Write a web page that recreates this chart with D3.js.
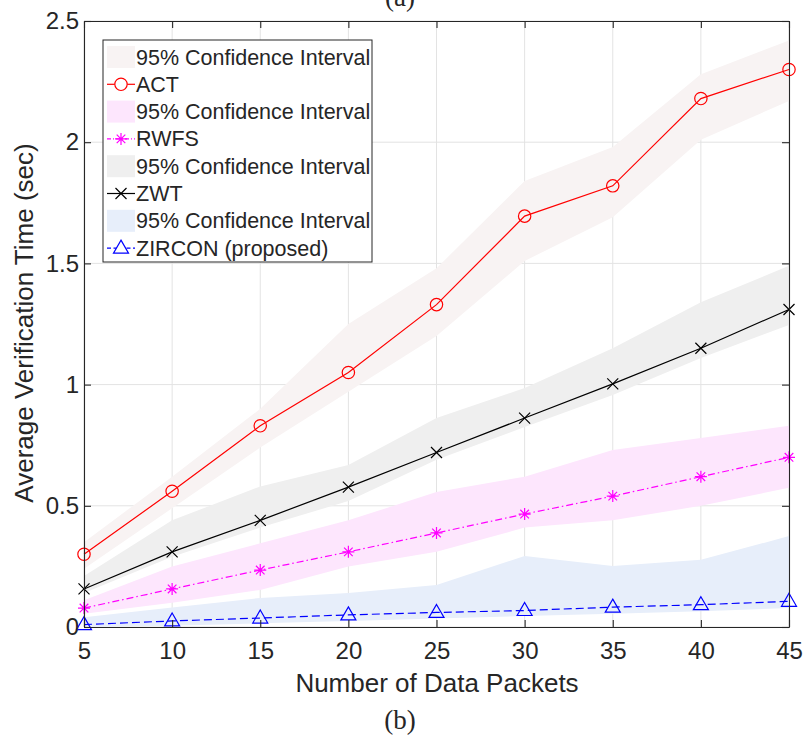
<!DOCTYPE html>
<html>
<head>
<meta charset="utf-8">
<title>Average Verification Time</title>
<style>
	body { margin: 0; background: #fff; }
	text { font-family: "Liberation Sans", Arial, Helvetica, sans-serif; fill: #262626; }
</style>
</head>
<body>
<svg width="806" height="738"></svg>
<script src="https://d3js.org/d3.v7.min.js"></script>
<script>
// data
const packets = [5, 10, 15, 20, 25, 30, 35, 40, 45];

const act   = [0.30, 0.56, 0.83, 1.05, 1.33, 1.695, 1.82, 2.18, 2.30];
const actLo = [0.24, 0.49, 0.74, 0.97, 1.20, 1.51, 1.69, 2.01, 2.17];
const actHi = [0.35, 0.62, 0.90, 1.25, 1.48, 1.84, 1.98, 2.28, 2.42];

const rwfs   = [0.078, 0.157, 0.235, 0.31, 0.388, 0.466, 0.54, 0.62, 0.70];
const rwfsLo = [0.055, 0.10, 0.153, 0.25, 0.31, 0.41, 0.44, 0.50, 0.574];
const rwfsHi = [0.11, 0.25, 0.345, 0.44, 0.557, 0.62, 0.73, 0.78, 0.83];

const zwt   = [0.157, 0.31, 0.44, 0.577, 0.72, 0.862, 1.003, 1.15, 1.31];
const zwtLo = [0.14, 0.29, 0.41, 0.52, 0.69, 0.825, 0.957, 1.11, 1.246];
const zwtHi = [0.21, 0.44, 0.58, 0.668, 0.862, 0.986, 1.15, 1.34, 1.49];

const zircon   = [0.01, 0.025, 0.037, 0.05, 0.06, 0.068, 0.082, 0.092, 0.106];
const zirconLo = [0.0, 0.005, 0.015, 0.025, 0.035, 0.045, 0.055, 0.065, 0.078];
const zirconHi = [0.04, 0.08, 0.12, 0.14, 0.173, 0.293, 0.252, 0.277, 0.375];

const xTicks = [5, 10, 15, 20, 25, 30, 35, 40, 45];
const yTicks = [0, 0.5, 1, 1.5, 2, 2.5];
const yTickLabels = ['0', '0.5', '1', '1.5', '2', '2.5'];

const series = [
	{name: 'ACT', y: act, lo: actLo, hi: actHi, color: '#ff0000', band: '#f8f3f3', dash: null, marker: 'circle'},
	{name: 'RWFS', y: rwfs, lo: rwfsLo, hi: rwfsHi, color: '#ff00ff', band: '#fde6fd', dash: '7,3,1.5,3', marker: 'star'},
	{name: 'ZWT', y: zwt, lo: zwtLo, hi: zwtHi, color: '#000000', band: '#efefef', dash: null, marker: 'cross'},
	{name: 'ZIRCON (proposed)', y: zircon, lo: zirconLo, hi: zirconHi, color: '#0000ff', band: '#e7eefa', dash: '8,4', marker: 'triangle'}
];

const plotL = 84, plotR = 789, plotT = 21, plotB = 627;

var svg = d3.select('svg');

var x = d3.scaleLinear().domain([5, 45]).range([plotL, plotR]);
var y = d3.scaleLinear().domain([0, 2.5]).range([plotB, plotT]);

// grid
var grid = svg.append('g').attr('class', 'grid');
grid.selectAll('.gx').data(xTicks).enter().append('line')
	.attr('x1', d => x(d)).attr('x2', d => x(d))
	.attr('y1', plotT).attr('y2', plotB)
	.attr('stroke', '#e3e3e3').attr('stroke-width', 1);
grid.selectAll('.gy').data(yTicks).enter().append('line')
	.attr('y1', d => y(d)).attr('y2', d => y(d))
	.attr('x1', plotL).attr('x2', plotR)
	.attr('stroke', '#e3e3e3').attr('stroke-width', 1);

// bands then lines
var area = d3.area()
	.x((d, i) => x(packets[i]))
	.y0(d => y(d[0]))
	.y1(d => y(d[1]));

var line = d3.line()
	.x((d, i) => x(packets[i]))
	.y(d => y(d));

function markerPath(type) {
	if (type === 'circle') return d3.symbol().type(d3.symbolCircle).size(120)();
	if (type === 'triangle') return 'M0,-8L7.5,5L-7.5,5Z';
	if (type === 'cross') return 'M-5.5,-5.5L5.5,5.5M-5.5,5.5L5.5,-5.5';
	// asterisk
	return 'M-6,0L6,0M0,-6L0,6M-4.3,-4.3L4.3,4.3M-4.3,4.3L4.3,-4.3';
}

var plot = svg.append('g').attr('class', 'plot');
series.forEach(s => {
	plot.append('path')
		.datum(s.lo.map((v, i) => [v, s.hi[i]]))
		.attr('d', area)
		.attr('fill', s.band);
});
series.forEach(s => {
	plot.append('path')
		.datum(s.y)
		.attr('d', line)
		.attr('fill', 'none')
		.attr('stroke', s.color)
		.attr('stroke-width', 1.2)
		.attr('stroke-dasharray', s.dash);
	plot.selectAll(null).data(s.y).enter().append('path')
		.attr('transform', (d, i) => `translate(${x(packets[i])},${y(d)})`)
		.attr('d', markerPath(s.marker))
		.attr('fill', 'none')
		.attr('stroke', s.color)
		.attr('stroke-width', 1.2);
});

// axes box with inward ticks
var axisColor = '#262626';
var xAxis = svg.append('g').attr('transform', `translate(0,${plotB})`)
	.call(d3.axisBottom(x).tickValues(xTicks).tickSizeInner(-7).tickSizeOuter(0));
var yAxis = svg.append('g').attr('transform', `translate(${plotL},0)`)
	.call(d3.axisLeft(y).tickValues(yTicks).tickFormat((d, i) => yTickLabels[i]).tickSizeInner(-7).tickSizeOuter(0).tickPadding(5));
svg.append('g').attr('transform', `translate(0,${plotT})`)
	.call(d3.axisTop(x).tickValues(xTicks).tickSizeInner(-7).tickSizeOuter(0).tickFormat(''));
svg.append('g').attr('transform', `translate(${plotR},0)`)
	.call(d3.axisRight(y).tickValues(yTicks).tickSizeInner(-7).tickSizeOuter(0).tickFormat(''));
svg.selectAll('.domain, .tick line').attr('stroke', axisColor).attr('stroke-width', 1.1);
svg.selectAll('.tick text').attr('font-size', 24).attr('fill', axisColor)
	.style('font-family', '"Liberation Sans", Arial, sans-serif');
xAxis.selectAll('.tick text').attr('dy', null).attr('y', 32);

// axis titles
svg.append('text')
	.attr('x', 437).attr('y', 692)
	.attr('text-anchor', 'middle').attr('font-size', 26)
	.text('Number of Data Packets');
svg.append('text')
	.attr('transform', 'translate(33,323) rotate(-90)')
	.attr('text-anchor', 'middle').attr('font-size', 26)
	.text('Average Verification Time (sec)');

// subfigure captions
svg.append('text')
	.attr('x', 400).attr('y', 729)
	.attr('text-anchor', 'middle').attr('font-size', 27)
	.style('font-family', '"Liberation Serif", "DejaVu Serif", serif')
	.attr('fill', '#111')
	.text('(b)');
svg.append('text')
	.attr('x', 400).attr('y', 6)
	.attr('text-anchor', 'middle').attr('font-size', 27)
	.style('font-family', '"Liberation Serif", "DejaVu Serif", serif')
	.attr('fill', '#111')
	.text('(a)');

// legend
var legend = svg.append('g').attr('transform', 'translate(103,40)');
legend.append('rect')
	.attr('width', 269).attr('height', 222)
	.attr('fill', '#fff').attr('stroke', axisColor).attr('stroke-width', 1);
var rowH = 27.3;
var items = [];
series.forEach(s => {
	items.push({kind: 'band', s: s, label: '95% Confidence Interval'});
	items.push({kind: 'line', s: s, label: s.name});
});
var rows = legend.selectAll('g.row').data(items).enter().append('g')
	.attr('class', 'row')
	.attr('transform', (d, i) => `translate(0,${17 + i * rowH})`);
rows.filter(d => d.kind === 'band').append('rect')
	.attr('x', 4).attr('y', -11).attr('width', 28).attr('height', 22)
	.attr('fill', d => d.s.band);
rows.filter(d => d.kind === 'line').append('line')
	.attr('x1', 4).attr('x2', 32).attr('y1', 0).attr('y2', 0)
	.attr('stroke', d => d.s.color).attr('stroke-width', 1.2)
	.attr('stroke-dasharray', d => d.s.dash ? (d.s.marker === 'triangle' ? '4,2.5' : '4,2,1,2') : null);
rows.filter(d => d.kind === 'line').append('path')
	.attr('transform', 'translate(18,0)')
	.attr('d', d => markerPath(d.s.marker))
	.attr('fill', '#fff')
	.attr('stroke', d => d.s.color).attr('stroke-width', 1.2);
rows.append('text')
	.attr('x', 33).attr('y', 0).attr('dy', '0.35em')
	.attr('font-size', 21.5).attr('fill', '#000')
	.text(d => d.label);
</script>
</body>
</html>
